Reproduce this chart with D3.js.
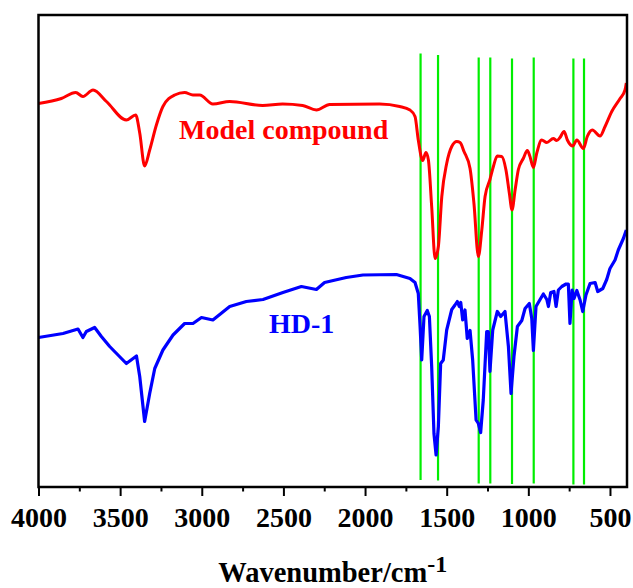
<!DOCTYPE html>
<html>
<head>
<meta charset="utf-8">
<script src="https://cdn.jsdelivr.net/npm/d3@7/dist/d3.min.js"></script>
<style>
  html, body { margin: 0; padding: 0; background: #fff; }
  svg { display: block; }
  text { font-family: "Liberation Serif", "Times New Roman", serif; font-weight: bold; }
</style>
</head>
<body>
<svg id="chart" width="633" height="588"></svg>
<script>
// ---------- data ----------
const xTickValues = [4000, 3500, 3000, 2500, 2000, 1500, 1000, 500];
const xMinorTicks = [3750, 3250, 2750, 2250, 1750, 1250, 750];
const xLabel = "Wavenumber/cm";
const xLabelSup = "-1";

const seriesNames = ["Model compound", "HD-1"];

// [wavenumber, transmittance (a.u., offset)]
const modelCompound = [
  [4000, 76.9], [3860, 77.9], [3772, 79.1], [3728, 78.3], [3666, 79.6], [3584, 77.3],
  [3462, 73.6], [3405, 74.6], [3380, 71.0], [3350, 64.4], [3319, 67.6], [3278, 72.6],
  [3238, 76.3], [3166, 78.6], [3105, 79.1], [3054, 78.6], [3013, 78.6], [2932, 76.8],
  [2829, 77.3], [2627, 76.5], [2505, 76.8], [2382, 76.5], [2298, 75.6], [2217, 76.7],
  [1911, 76.8], [1788, 76.3], [1725, 75.6], [1694, 74.3], [1674, 69.6], [1647, 65.5],
  [1627, 67.1], [1612, 65.6], [1592, 56.3], [1571, 45.9], [1551, 48.3], [1530, 58.3],
  [1500, 64.9], [1469, 68.3], [1438, 69.3], [1418, 69.1], [1394, 67.3], [1357, 63.9],
  [1333, 56.9], [1306, 46.3], [1285, 51.6], [1265, 58.3], [1235, 61.7], [1214, 64.3],
  [1190, 66.4], [1163, 66.3], [1137, 63.6], [1116, 58.9], [1100, 55.6], [1081, 59.6],
  [1061, 63.7], [1031, 65.9], [1006, 67.5], [990, 66.3], [969, 64.1], [949, 66.9],
  [918, 69.6], [887, 69.1], [847, 69.9], [826, 69.5], [806, 70.1], [781, 71.3],
  [761, 69.6], [728, 68.4], [703, 69.6], [663, 67.9], [639, 70.3], [608, 71.6],
  [561, 70.4], [530, 72.3], [489, 75.3], [438, 77.9], [408, 79.6], [400, 81.0]
];

const hd1 = [
  [4000, 30.1], [3850, 30.9], [3758, 31.8], [3728, 30.1], [3707, 31.3], [3656, 32.1],
  [3615, 30.3], [3564, 28.3], [3462, 24.9], [3400, 26.4], [3380, 22.3], [3350, 13.3],
  [3319, 18.9], [3288, 23.9], [3238, 27.6], [3176, 30.6], [3105, 32.9], [3054, 32.9],
  [3002, 34.1], [2932, 33.6], [2829, 36.3], [2727, 37.3], [2625, 37.7], [2503, 39.1],
  [2390, 40.3], [2298, 39.7], [2248, 41.1], [2115, 42.1], [2013, 42.6], [1808, 42.7],
  [1725, 41.9], [1694, 41.1], [1674, 38.9], [1663, 32.3], [1653, 25.6], [1639, 34.3],
  [1619, 35.5], [1606, 34.3], [1592, 24.3], [1578, 10.9], [1565, 6.6], [1551, 12.3],
  [1537, 24.9], [1521, 25.6], [1500, 31.6], [1469, 35.7], [1449, 36.6], [1435, 37.3],
  [1423, 36.3], [1414, 37.1], [1402, 33.6], [1388, 35.6], [1374, 29.9], [1357, 31.5],
  [1341, 25.6], [1320, 13.6], [1306, 12.9], [1292, 11.1], [1276, 17.6], [1255, 31.3],
  [1245, 31.3], [1235, 23.3], [1218, 31.6], [1190, 35.3], [1169, 34.3], [1143, 35.3],
  [1122, 28.3], [1106, 18.9], [1088, 26.3], [1067, 32.3], [1040, 33.5], [1020, 35.9],
  [994, 36.9], [979, 33.9], [969, 27.5], [953, 36.3], [928, 37.7], [908, 38.8],
  [887, 37.7], [877, 36.3], [863, 39.1], [843, 39.3], [830, 36.3], [816, 39.6],
  [795, 40.3], [769, 40.8], [755, 40.8], [745, 32.9], [732, 39.6], [720, 37.9],
  [703, 39.5], [683, 37.6], [667, 35.3], [647, 38.6], [622, 40.9], [591, 41.1],
  [575, 39.3], [544, 39.9], [520, 41.7], [500, 43.9], [469, 45.6], [449, 47.6],
  [418, 49.9], [400, 51.6]
];

// characteristic band markers (wavenumber) and their vertical extent (a.u.)
const markerWavenumbers = [1660, 1553, 1304, 1233, 1100, 967, 724, 659];
const markerTop = [86.9, 86.6, 86.1, 86.1, 85.9, 86.1, 85.9, 85.9];
const markerBottom = [1.6, 1.5, 0.9, 0.9, 0.8, 0.9, 0.7, 0.7];

// ---------- layout ----------
const svg = d3.select("#chart");
const plot = { left: 38.5, right: 627, top: 15, bottom: 487 };

const x = d3.scaleLinear().domain([4000, 400]).range([plot.left, 626.3]);
const y = d3.scaleLinear().domain([0, 94]).range([488, 18]);

// green marker lines
svg.append("g").selectAll("line")
  .data(markerWavenumbers)
  .join("line")
  .attr("x1", d => x(d)).attr("x2", d => x(d))
  .attr("y1", (d, i) => y(markerTop[i]))
  .attr("y2", (d, i) => y(markerBottom[i]))
  .attr("stroke", "#00ee00")
  .attr("stroke-width", 2.2);

// spectra
svg.append("path")
  .datum(modelCompound)
  .attr("d", d3.line().x(d => x(d[0])).y(d => y(d[1])).curve(d3.curveMonotoneX))
  .attr("fill", "none")
  .attr("stroke", "#ff0000")
  .attr("stroke-width", 3)
  .attr("stroke-linejoin", "round");

svg.append("path")
  .datum(hd1)
  .attr("d", d3.line().x(d => x(d[0])).y(d => y(d[1])).curve(d3.curveLinear))
  .attr("fill", "none")
  .attr("stroke", "#0000ff")
  .attr("stroke-width", 3.2)
  .attr("stroke-linejoin", "round");

// frame
svg.append("rect")
  .attr("x", plot.left).attr("y", plot.top)
  .attr("width", plot.right - plot.left).attr("height", plot.bottom - plot.top)
  .attr("fill", "none").attr("stroke", "#000").attr("stroke-width", 2.5);

// x axis
const axisG = svg.append("g").attr("transform", `translate(0,${plot.bottom})`);
axisG.call(d3.axisBottom(x).tickValues(xTickValues).tickSize(9).tickSizeOuter(0).tickFormat(d3.format("d")));
axisG.select(".domain").remove();
axisG.selectAll(".tick line").attr("stroke", "#000").attr("stroke-width", 2);
axisG.selectAll(".tick text")
  .attr("y", 39.5).attr("dy", null)
  .attr("fill", "#000")
  .style("font-family", '"Liberation Serif", "Times New Roman", serif')
  .style("font-weight", "bold")
  .style("font-size", "28px");

const minorG = svg.append("g").attr("transform", `translate(0,${plot.bottom})`);
minorG.call(d3.axisBottom(x).tickValues(xMinorTicks).tickSize(4.5).tickSizeOuter(0).tickFormat(""));
minorG.select(".domain").remove();
minorG.selectAll(".tick line").attr("stroke", "#000").attr("stroke-width", 2);

// axis title
const title = svg.append("text")
  .attr("x", (plot.left + plot.right) / 2)
  .attr("y", 581.5)
  .attr("text-anchor", "middle")
  .attr("fill", "#000")
  .style("font-size", "28.5px");
title.append("tspan").text(xLabel);
title.append("tspan").text(xLabelSup).attr("dy", -10).style("font-size", "24px");

// series labels
svg.append("text").attr("x", 179).attr("y", 139)
  .attr("fill", "#ff0000").style("font-size", "28px").text(seriesNames[0]);
svg.append("text").attr("x", 269).attr("y", 332.7)
  .attr("fill", "#0000ff").style("font-size", "28px").text(seriesNames[1]);
</script>
</body>
</html>
